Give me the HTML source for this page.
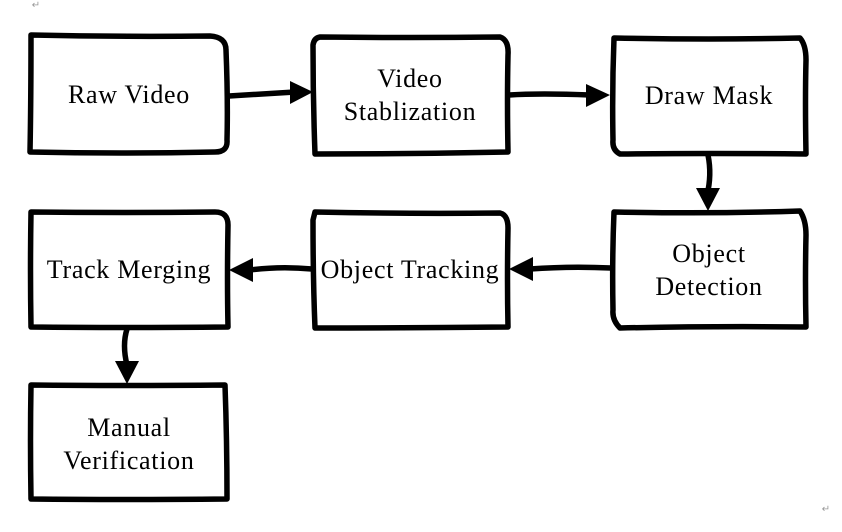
<!DOCTYPE html>
<html><head><style>
body{margin:0;background:#fff;width:842px;height:527px;overflow:hidden}
svg text{font-family:"Liberation Serif",serif;font-size:26px;letter-spacing:0.7px;fill:#000;text-anchor:middle}
</style></head><body>
<svg width="842" height="527" viewBox="0 0 842 527">
<g fill="none" stroke="#000" stroke-width="5.5" stroke-linejoin="round" stroke-linecap="round">
<path d="M31,35 Q120,37 210,36 Q226,37 226,50 Q228,100 227,140 Q228,152 215,152 Q120,154 30,152 Q31,100 31,35Z"/>
<path d="M320,37 Q410,38 500,37 Q509,40 508,55 Q507,100 508,152 Q410,154 315,154 Q313,100 313,45 Q314,38 320,37Z"/>
<path d="M614,38 Q710,40 800,38 Q806,45 806,60 Q805,100 806,154 Q710,153 620,154 Q612,150 613,140 Q612,90 614,38Z"/>
<path d="M614,212 Q710,214 800,211 Q806,220 806,235 Q805,280 806,327 Q710,326 620,328 Q612,320 613,310 Q612,260 614,212Z"/>
<path d="M315,212 Q410,214 500,213 Q508,215 508,228 Q507,280 508,327 Q410,328 315,328 Q313,280 313,220Z"/>
<path d="M31,212 Q120,213 215,212 Q228,212 228,225 Q227,280 228,327 Q120,328 31,327 Q30,270 31,212Z"/>
<path d="M31,385 Q120,386 225,385 Q227,440 227,499 Q120,500 31,499 Q30,440 31,385Z"/>
<path d="M229,96 Q260,94 295,92"/>
<path d="M509,95 Q540,93 590,95"/>
<path d="M708,155 Q712,175 707,195"/>
<path d="M611,268 Q570,266 530,269"/>
<path d="M312,269 Q280,266 250,270"/>
<path d="M127,329 Q122,345 127,365"/>
</g>
<g fill="#000">
<polygon points="290,81 313,92 290,104"/>
<polygon points="586,84 610,95 586,107"/>
<polygon points="696,188 708,211 720,188"/>
<polygon points="533,257 509,269 533,281"/>
<polygon points="253,258 229,270 253,282"/>
<polygon points="115,361 127,384 139,361"/>
</g>
<text x="129" y="103">Raw Video</text>
<text x="410" y="87">Video</text>
<text x="410" y="120">Stablization</text>
<text x="709" y="104">Draw Mask</text>
<text x="709" y="262">Object</text>
<text x="709" y="295">Detection</text>
<text x="410" y="278">Object Tracking</text>
<text x="129" y="278">Track Merging</text>
<text x="129" y="436">Manual</text>
<text x="129" y="469">Verification</text>
<text x="36" y="8" style="font-size:10px;fill:#999;letter-spacing:0">↵</text>
<text x="826" y="512" style="font-size:10px;fill:#999;letter-spacing:0">↵</text>
</svg>
</body></html>
